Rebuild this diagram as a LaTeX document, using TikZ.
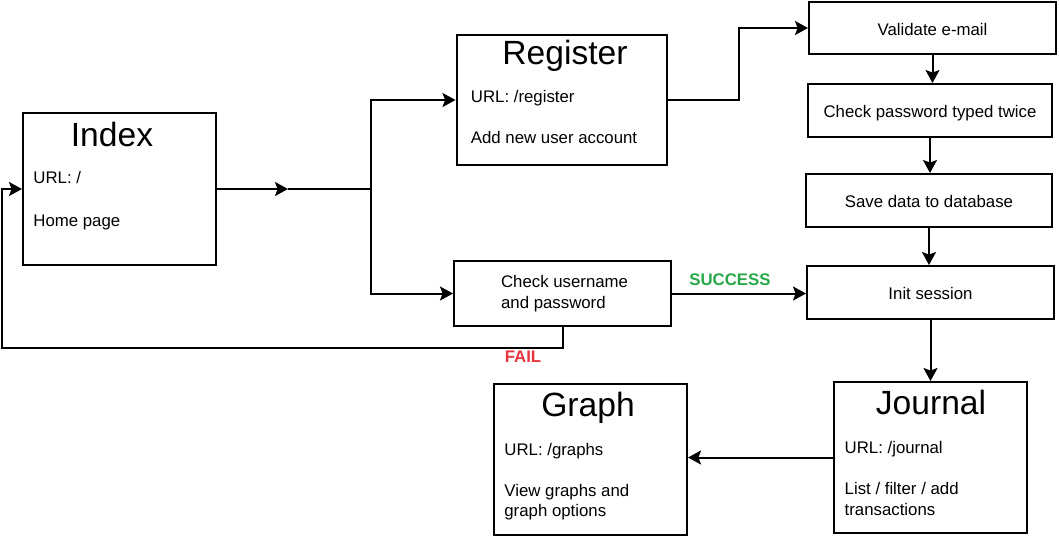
\documentclass[tikz,border=0pt]{standalone}
\usepackage{fontspec}
\setmainfont{Liberation Sans}
\usetikzlibrary{arrows.meta}

\definecolor{okgreen}{RGB}{40,168,72}
\definecolor{failred}{RGB}{232,52,60}

\tikzset{
  page/.style={draw, line width=1pt, inner sep=0pt},
  stepbox/.style={draw, line width=1pt, inner sep=0pt,
    font=\fontsize{8.4}{10.2}\selectfont, text height=0.72em, text depth=0pt},
  pagetitle/.style={font=\fontsize{16.8}{20}\selectfont, anchor=base, inner sep=0pt},
  info/.style={font=\fontsize{8.4}{10.3}\selectfont, anchor=base west, align=left, inner sep=0pt},
  verdict/.style={font=\fontsize{8.4}{10.2}\selectfont\bfseries, anchor=base, inner sep=0pt},
  flow/.style={line width=1pt, -{Stealth[length=6.5pt,width=7pt,inset=1.3pt]}},
}

\begin{document}
\begin{tikzpicture}[x=0.5pt, y=-0.5pt]
    \useasboundingbox (0,0) rectangle (1059,537);

    % Pages
    \node[page, minimum width=96.5pt, minimum height=76pt] (index) at (119.5,189) {};
    \node[pagetitle] (indextitle) at (112,146) {Index};
    \node[info] (indexurl) at (33,183) {URL: /};
    \node[info] (indexinfo) at (33,226) {Home page};

    \node[page, minimum width=105pt, minimum height=65pt] (register) at (561.5,100) {};
    \node[pagetitle] (registertitle) at (565,64.3) {Register};
    \node[info] (registerurl) at (470.5,102.3) {URL: /register};
    \node[info] (registerinfo) at (470.5,143.3) {Add new user account};

    \node[page, minimum width=96.5pt, minimum height=75.5pt] (journal) at (930.5,457.5) {};
    \node[pagetitle] (journaltitle) at (931,414) {Journal};
    \node[info] (journalurl) at (844.3,453) {URL: /journal};
    % base anchor sits on the last line
    \node[info] (journalinfo) at (844.3,515.3) {List / filter / add\\transactions};

    \node[page, minimum width=96.5pt, minimum height=75.5pt] (graph) at (590.5,459.5) {};
    \node[pagetitle] (graphtitle) at (588,416.7) {Graph};
    \node[info] (graphurl) at (504,455) {URL: /graphs};
    \node[info] (graphinfo) at (504,516.7) {View graphs and\\graph options};

    % Login check
    \node[page, minimum width=108.5pt, minimum height=32.5pt] (check) at (562.5,293.5) {};
    \node[info] (checktext) at (500.7,308.3) {Check username\\and password};

    % Registration steps
    \node[stepbox, minimum width=123.5pt, minimum height=26pt] (validate) at (932.5,28) {Validate e-mail};
    \node[stepbox, minimum width=122pt, minimum height=26.5pt] (twice) at (930,110.5) {Check password typed twice};
    \node[stepbox, minimum width=123pt, minimum height=26.5pt] (save) at (929,200.5) {Save data to database};
    \node[stepbox, minimum width=123.5pt, minimum height=26.5pt] (init) at (930.5,292.5) {Init session};

    % Connectors
    \coordinate (halfway) at (288,189);
    \coordinate (fork) at (371,189);
    \coordinate (loop) at (2,348);
    \draw[flow] (index.east) -- (halfway);
    \draw[line width=1pt] (halfway) -- (fork);
    \draw[flow] (fork) |- (register.west);
    \draw[flow] (fork) |- (check.west);
    \draw[flow] (register.east) -- ++(71,0) |- (validate.west);
    \draw[flow] (validate.south) -- (validate.south |- twice.north);
    \draw[flow] (twice.south) -- (twice.south |- save.north);
    \draw[flow] (save.south) -- (save.south |- init.north);
    \draw[flow] (check.east) -- (check.east -| init.west);
    \draw[flow] (check.south) |- (loop) |- (index.west);
    \draw[flow] (init.south) -- (init.south |- journal.north);
    \draw[flow] (journal.west) -- (journal.west -| graph.east);

    \node[verdict, text=okgreen] (success) at (730,285.3) {SUCCESS};
    \node[verdict, text=failred] (fail) at (523,362) {FAIL};
\end{tikzpicture}
\end{document}
